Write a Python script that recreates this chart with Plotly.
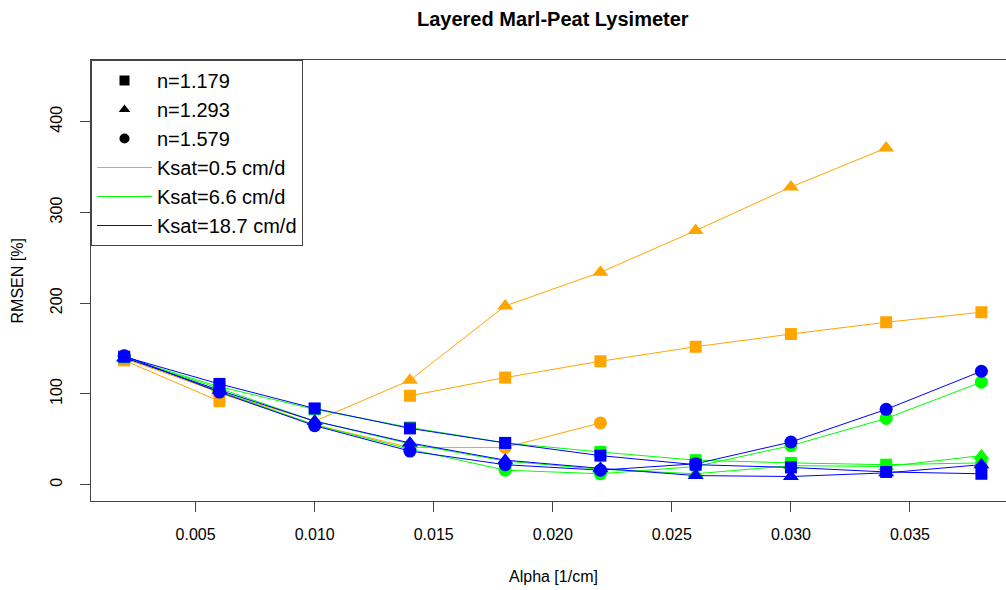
import plotly.graph_objects as go

alpha = [0.002, 0.006, 0.010, 0.014, 0.018, 0.022, 0.026, 0.030, 0.034, 0.038]

# Ksat = 0.5 cm/d (orange)
k05_n1179 = [137, 92, None, 98, 118, 136, 152, 166, 179, 190]
k05_n1293 = [139, 102, 70, 115, 197, 234, 280, 328, 371, None]
k05_n1579 = [142, 101, 66, 41, 41, 68, None, None, None, None]
# Ksat = 6.6 cm/d (green)
k66_n1179 = [140, 108, 83, 63, 46, 36, 27, 24, 22, 24]
k66_n1293 = [140, 106, 70, 45, 26, 17, 12, 21, 20, 32]
k66_n1579 = [141, 103, 66, 39, 16, 12, 20, 43, 73, 113]
# Ksat = 18.7 cm/d (blue)
k187_n1179 = [141, 111, 84, 62, 46, 32, 22, 19, 14, 12]
k187_n1293 = [140, 104, 70, 46, 27, 18, 10, 9, 13, 22]
k187_n1579 = [142, 102, 65, 37, 22, 16, 23, 47, 83, 125]

n_labels = ["n=1.179", "n=1.293", "n=1.579"]
ksat_labels = ["Ksat=0.5 cm/d", "Ksat=6.6 cm/d", "Ksat=18.7 cm/d"]
x_ticks = [0.005, 0.010, 0.015, 0.020, 0.025, 0.030, 0.035]
y_ticks = [0, 100, 200, 300, 400]

colors = ["#FFA500", "#00FF00", "#0000FF"]
symbols = ["square", "triangle-up", "circle"]
sizes = [12, 14, 13]

groups = [
    [k05_n1179, k05_n1293, k05_n1579],
    [k66_n1179, k66_n1293, k66_n1579],
    [k187_n1179, k187_n1293, k187_n1579],
]

fig = go.Figure()
for ci, grp in enumerate(groups):
    for si, ys in enumerate(grp):
        fig.add_trace(go.Scatter(
            x=alpha, y=ys, mode="lines+markers",
            line=dict(color=colors[ci], width=1),
            marker=dict(symbol=symbols[si], size=sizes[si], color=colors[ci]),
            connectgaps=False, showlegend=False, hoverinfo="x+y",
        ))

for si, lab in enumerate(n_labels):
    fig.add_trace(go.Scatter(
        x=[None], y=[None], mode="markers", name=lab,
        marker=dict(symbol=symbols[si], size=10, color="black"),
    ))
for ci, lab in enumerate(ksat_labels):
    fig.add_trace(go.Scatter(
        x=[None], y=[None], mode="lines", name=lab,
        line=dict(color=colors[ci], width=1.2),
    ))

axis_col = "#444444"
fig.update_layout(
    width=1006, height=590,
    margin=dict(l=91, r=0, t=60, b=89),
    paper_bgcolor="white", plot_bgcolor="white",
    font=dict(family="Liberation Sans, Arial, sans-serif", color="black", size=16),
    showlegend=True,
    legend=dict(
        x=0, y=1, xanchor="left", yanchor="top",
        bordercolor=axis_col, borderwidth=1, bgcolor="white",
        font=dict(size=20), itemwidth=55, tracegroupgap=0,
        entrywidth=160, entrywidthmode="pixels",
    ),
    xaxis=dict(
        range=[0.000606, 0.039033], tickvals=x_ticks, tickformat=".3f",
        showgrid=False, zeroline=False, showline=True, linecolor=axis_col,
        linewidth=1, mirror=True, ticks="outside", ticklen=10,
        tickcolor=axis_col, tickfont=dict(size=16), ticklabelstandoff=9,
    ),
    yaxis=dict(
        range=[-18, 468], tickvals=y_ticks,
        showgrid=False, zeroline=False, showline=True, linecolor=axis_col,
        linewidth=1, mirror=False, ticks="outside", ticklen=10,
        tickcolor=axis_col, tickfont=dict(size=16), tickangle=-90,
        ticklabelstandoff=12,
    ),
    annotations=[
        dict(text="<b>Layered Marl-Peat Lysimeter</b>", xref="paper", yref="paper",
             x=0.505, y=1.092, xanchor="center", yanchor="middle",
             showarrow=False, font=dict(size=20)),
        dict(text="Alpha [1/cm]", xref="paper", yref="paper",
             x=0.505, y=-0.172, xanchor="center", yanchor="middle",
             showarrow=False, font=dict(size=16)),
        dict(text="RMSEN [%]", xref="paper", yref="paper",
             x=-0.0798, y=0.5, xanchor="center", yanchor="middle",
             textangle=-90, showarrow=False, font=dict(size=16)),
    ],
)

fig.write_html("out.html")
